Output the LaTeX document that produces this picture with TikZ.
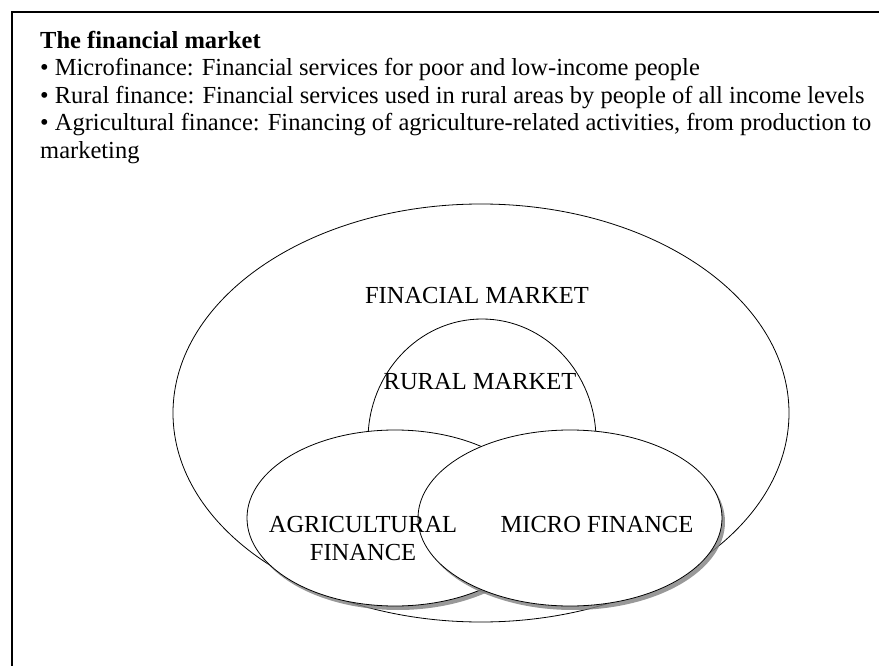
\documentclass[tikz,border=0pt]{standalone}
\usepackage{fontspec}
\setmainfont{Liberation Serif}
\usetikzlibrary{shapes,shadows,positioning}
\tikzset{
    market/.style={draw, ellipse, inner sep=0pt, line width=0.8pt},
    segment/.style={market, fill=white, drop shadow={shadow xshift=3pt, shadow yshift=-4pt, fill=black!50, opacity=0.8}},
    tag/.style={font=\fontsize{24.5}{28}\selectfont, inner sep=0pt, align=center}
}

\begin{document}
\begin{tikzpicture}[x=1pt, y=-1pt]
    \useasboundingbox (0,0) rectangle (879,666);
    % frame, only top and left edges
    \draw[line width=1.2pt] (879,12) -- (12,12) -- (12,666);

    \node[anchor=north west, align=left, inner sep=0pt, font=\fontsize{24.5}{27.5}\selectfont] (intro) at (40,31)
        {\textbf{The financial market}\\
         • Microfinance: Financial services for poor and low-income people\\
         • Rural finance: Financial services used in rural areas by people of all income levels\\
         • Agricultural finance: Financing of agriculture-related activities, from production to\\
         marketing};

    \node[market, minimum width=616pt, minimum height=418pt] (finmarket) at (481,413) {};
    \node[market, fill=white, minimum width=228pt, minimum height=242pt] (rural) at (482,440) {};
    \node[segment, minimum width=296pt, minimum height=176pt] (agri) at (395,518) {};
    \node[segment, minimum width=304pt, minimum height=176pt] (micro) at (570,518) {};

    \node[tag, anchor=base] (fintext) at (477,303) {FINACIAL MARKET};
    \node[tag, anchor=base] (ruraltext) at (480,389) {RURAL MARKET};
    \node[tag] (agritext) at (363,539) {AGRICULTURAL\\FINANCE};
    \node[tag, anchor=base] (microtext) at (597,532) {MICRO FINANCE};
\end{tikzpicture}
\end{document}
